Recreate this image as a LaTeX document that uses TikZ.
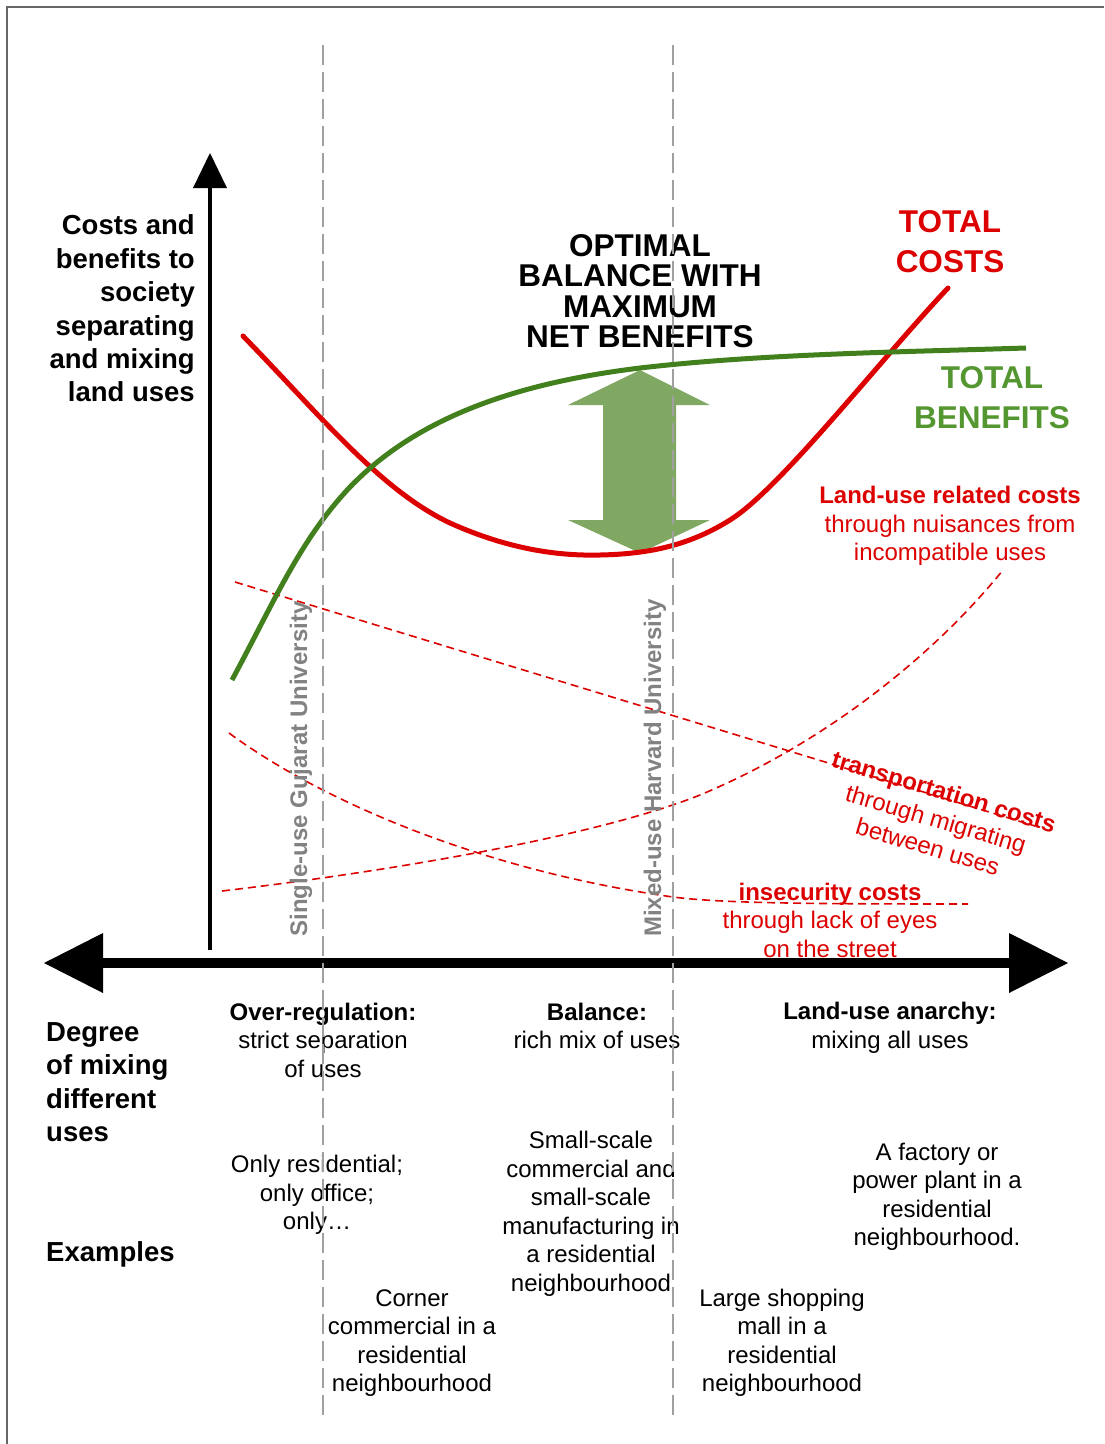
\documentclass[tikz,border=0pt]{standalone}
\usepackage{fontspec}
\setmainfont{Liberation Sans}
\definecolor{cred}{RGB}{220,0,0}
\definecolor{cgreen}{RGB}{66,128,30}
\definecolor{tgreen}{RGB}{84,150,48}
\definecolor{agreen}{RGB}{128,168,98}
\definecolor{cgray}{RGB}{160,160,160}
\definecolor{lgray}{RGB}{130,130,130}
\begin{document}
\begin{tikzpicture}[x=1pt,y=-1pt,
  axislbl/.style={font=\fontsize{27.5}{33.4}\selectfont\bfseries, inner sep=0pt},
  titletxt/.style={font=\fontsize{31.5}{30.5}\selectfont\bfseries, align=center, inner sep=0pt},
  curvelbl/.style={font=\fontsize{31.5}{40}\selectfont\bfseries, align=center, inner sep=0pt},
  body/.style={font=\fontsize{24}{28.5}\selectfont, align=center, inner sep=0pt},
  redbody/.style={body, text=cred},
  vlbl/.style={font=\fontsize{24}{28}\selectfont\bfseries, text=lgray, rotate=90, inner sep=0pt},
  thinred/.style={draw=cred, line width=1.6pt, dash pattern=on 8pt off 5pt},
  guide/.style={draw=cgray, line width=2.5pt, dash pattern=on 20pt off 7pt},
  bigcurve/.style={line width=5pt}
]
\useasboundingbox (0,0) rectangle (1104,1444);
% frame
\draw[draw=black!60, line width=1.5pt] (7,1444) -- (7,7) -- (1104,7);

% axes
\coordinate (vbot) at (210,950);
\coordinate (vtop) at (210,185);
\draw[line width=4pt] (vbot) -- (vtop);
\fill (210,153) -- (193,188) -- (227,188) -- cycle;
\coordinate (hl) at (100,963);
\coordinate (hr) at (1012,963);
\draw[line width=10pt] (hl) -- (hr);
\fill (44,963) -- (103,933) -- (103,993) -- cycle;
\fill (1068,963) -- (1009,933) -- (1009,993) -- cycle;

% thin dashed cost curves
\draw[thinred] (235,582) -- (1035,826);
\draw[thinred] (229,733) .. controls (320,800) and (480,870) .. (673,897)
  .. controls (720,903) and (800,904) .. (968,904);
\draw[thinred] (222,891) .. controls (400,870) and (600,835) .. (700,795)
  .. controls (820,745) and (930,660) .. (1003,570);

% green double arrow
\fill[agreen] (640,370) -- (710,405) -- (676,405) -- (676,520) -- (710,520) -- (640,553)
  -- (568,520) -- (603,520) -- (603,405) -- (568,405) -- cycle;

% big curves
\draw[bigcurve, cred, line cap=round] (243,336) .. controls (320,415) and (380,490) .. (450,523)
  .. controls (510,550) and (560,556) .. (600,555)
  .. controls (650,554) and (690,545) .. (730,520)
  .. controls (780,489) and (880,360) .. (948,288);
\draw[bigcurve, cgreen] (232,680) .. controls (275,600) and (300,540) .. (350,487)
  .. controls (410,425) and (500,385) .. (640,368)
  .. controls (760,354) and (900,352) .. (1026,348);

% texts
\node[axislbl, align=right, anchor=east] (ylab) at (195,308.5) {Costs and\\benefits to\\society\\separating\\and mixing\\land uses};
\node[titletxt] (title) at (640,291) {OPTIMAL\\BALANCE WITH\\MAXIMUM\\NET BENEFITS};
\node[curvelbl, text=cred] (tc) at (950,242) {TOTAL\\COSTS};
\node[curvelbl, text=tgreen] (tb) at (992,398) {TOTAL\\BENEFITS};
\node[redbody] (luc) at (950,526) {\textbf{Land-use related costs}\\through nuisances from\\incompatible uses};
\node[redbody, rotate=-16.5] (trc) at (936,819) {\textbf{transportation costs}\\through migrating\\between uses};
\node[redbody] (isc) at (830,920) {\textbf{insecurity costs}\\through lack of eyes\\on the street};

\node[vlbl] (gu) at (301,769) {Single-use Gujarat University};
\node[vlbl] (hu) at (655,768) {Mixed-use Harvard University};

\node[axislbl, align=left, anchor=west] (xlab) at (46,1082) {Degree\\of mixing\\different\\uses};
\node[axislbl, anchor=west] (ex) at (46,1254) {Examples};

\node[body] (over) at (323,1040) {\textbf{Over-regulation:}\\strict separation\\of uses};
\node[body] (bal) at (597,1026) {\textbf{Balance:}\\rich mix of uses};
\node[body] (anar) at (890,1028) {\textbf{Land-use anarchy:}\\mixing all uses};

\node[body] (ex1) at (317,1195) {Only residential;\\only office;\\only…};
\node[body] (ex2) at (591,1214) {Small-scale\\commercial and\\small-scale\\manufacturing in\\a residential\\neighbourhood};
\node[body] (ex3) at (937,1197) {A factory or\\power plant in a\\residential\\neighbourhood.};
\node[body] (ex4) at (412,1343) {Corner\\commercial in a\\residential\\neighbourhood};
\node[body] (ex5) at (782,1343) {Large shopping\\mall in a\\residential\\neighbourhood};

% guide lines
\coordinate (g1t) at (323,45);
\coordinate (g1b) at (323,1421);
\coordinate (g2t) at (673,45);
\coordinate (g2b) at (673,1421);
\draw[guide] (g1t) -- (g1b);
\draw[guide] (g2t) -- (g2b);
\end{tikzpicture}
\end{document}
